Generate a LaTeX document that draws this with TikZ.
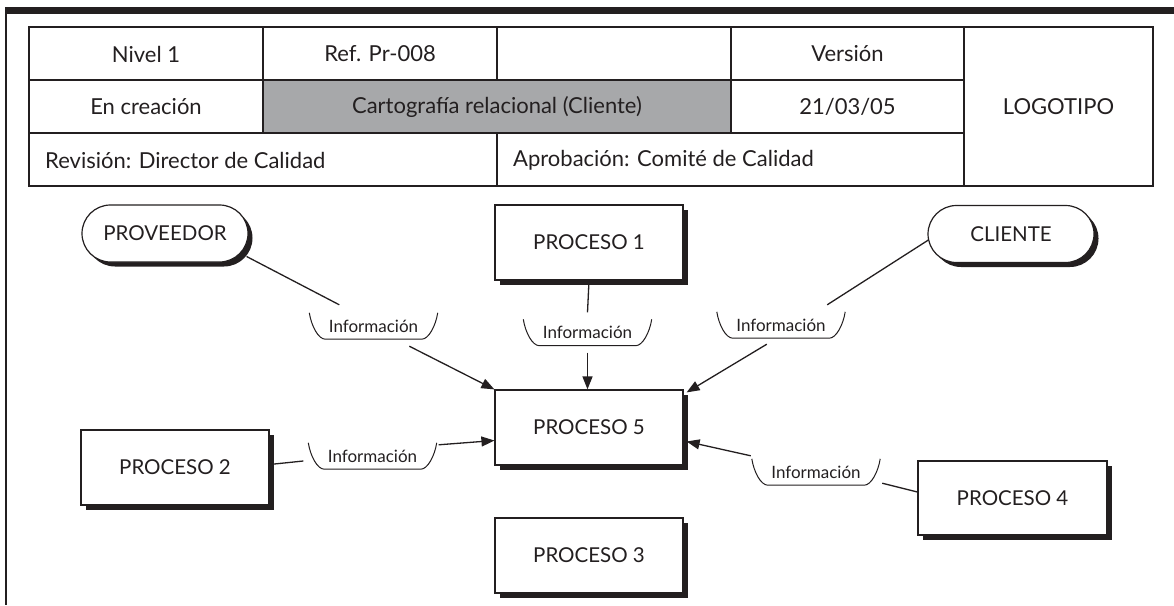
\documentclass[tikz,border=0pt]{standalone}
\usepackage{fontspec}
\setmainfont{Lato}
\usetikzlibrary{arrows.meta,shadows,shapes.misc,calc}
\definecolor{ink}{HTML}{231F20}
\definecolor{cellgray}{HTML}{A7A8AA}
\begin{document}
\begin{tikzpicture}[x=1pt,y=-1pt,
  tab/.style={draw=ink,line width=1.3pt},
  celltext/.style={inner sep=0pt,font=\fontsize{22}{24}\selectfont,text=ink},
  shad/.style={drop shadow={shadow xshift=4.5pt,shadow yshift=-4.5pt,fill=ink,opacity=1}},
  proc/.style={draw=ink,line width=1.2pt,fill=white,shad,minimum width=188pt,minimum height=75pt,inner sep=0pt,font=\fontsize{20.5}{22}\selectfont,text=ink},
  actor/.style={rounded rectangle,draw=ink,line width=1.2pt,fill=white,shad,minimum width=166pt,minimum height=57pt,inner sep=0pt,font=\fontsize{20.5}{22}\selectfont,text=ink},
  infotext/.style={minimum width=128pt,minimum height=26pt,inner sep=0pt,font=\fontsize{17}{18}\selectfont,text=ink},
  bracket/.style={draw=ink,line width=1pt},
  conn/.style={draw=ink,line width=1.3pt},
  arr/.style={conn,-{Triangle[length=13pt,width=10pt]}}
]
\newcommand{\infolab}[3]{%
  \node[infotext] (#1) at (#2,#3) {Información};
  \draw[bracket] (#1.north west) .. controls +(2,13) and +(-7,0) .. ([shift={(16,0)}]#1.south west)
     -- ([shift={(-16,0)}]#1.south east) .. controls +(7,0) and +(-2,13) .. (#1.north east);}
\useasboundingbox (0,0) rectangle (1174,605);
% frame
\fill[ink] (5,7) rectangle (1174,14);
\draw[ink,line width=1.5pt] (6,14) -- (6,605);
% table
\fill[cellgray] (263,80) rectangle (731,133);
\draw[tab] (29,27) rectangle (1153,186);
\draw[tab] (29,80) -- (964,80);
\draw[tab] (29,133) -- (964,133);
\draw[tab] (263,27) -- (263,133);
\draw[tab] (497,27) -- (497,80);
\draw[tab] (497,133) -- (497,186);
\draw[tab] (731,27) -- (731,133);
\draw[tab] (964,27) -- (964,186);
\node[celltext] (t11) at (146,54) {Nivel 1};
\node[celltext] (t12) at (380,54) {Ref. Pr-008};
\node[celltext] (t14) at (847.5,54) {Versión};
\node[celltext] (t21) at (146,107) {En creación};
\node[celltext] (t22) at (497,107) {Cartografía relacional (Cliente)};
\node[celltext] (t24) at (847.5,107) {21/03/05};
\node[celltext] (t5) at (1058.5,107) {LOGOTIPO};
\node[celltext,anchor=west] (t31) at (45,160) {Revisión: Director de Calidad};
\node[celltext,anchor=west] (t32) at (513,160) {Aprobación: Comité de Calidad};
% diagram nodes
\node[actor] (prov) at (165,233.5) {PROVEEDOR};
\node[actor] (cli) at (1011,234) {CLIENTE};
\node[proc] (p1) at (589,242.5) {PROCESO 1};
\node[proc] (p5) at (589,427.5) {PROCESO 5};
\node[proc] (p3) at (589,555.5) {PROCESO 3};
\node[proc] (p2) at (175,467.5) {PROCESO 2};
\node[proc,minimum width=189pt,minimum height=74pt] (p4) at (1012.5,498) {PROCESO 4};
% labels
\infolab{l1}{373.5}{326}
\infolab{l2}{587.5}{332.5}
\infolab{l3}{781}{325}
\infolab{l4}{372.5}{456}
\infolab{l5}{816}{472}
% connectors
\draw[conn] ([shift={(-2,23)}]prov.east) -- ([shift={(30,-8)}]l1.north west);
\draw[arr] ([shift={(100,7)}]l1.south west) -- (p5.north west);
\draw[conn] (p1.south) -- ([shift={(0,-7)}]l2.north);
\draw[arr] ([shift={(0,7)}]l2.south) -- (l2.south |- p5.north);
\draw[conn] ([shift={(1,6)}]cli.west) -- ([shift={(-18,-7)}]l3.north east);
\draw[arr] ([shift={(50,6)}]l3.south west) -- ([shift={(3,3)}]p5.north east);
\draw[conn] ([shift={(0,-3)}]p2.east) -- ([shift={(-5,5)}]l4.west);
\draw[arr] ([shift={(2,2)}]l4.north east) -- ([shift={(0,13)}]p5.west);
\draw[conn] ([shift={(0,-6)}]p4.west) -- ([shift={(2,-2)}]l5.south east);
\draw[arr] ([shift={(-1,-3)}]l5.north west) -- ([shift={(3,14)}]p5.east);
\end{tikzpicture}
\end{document}
